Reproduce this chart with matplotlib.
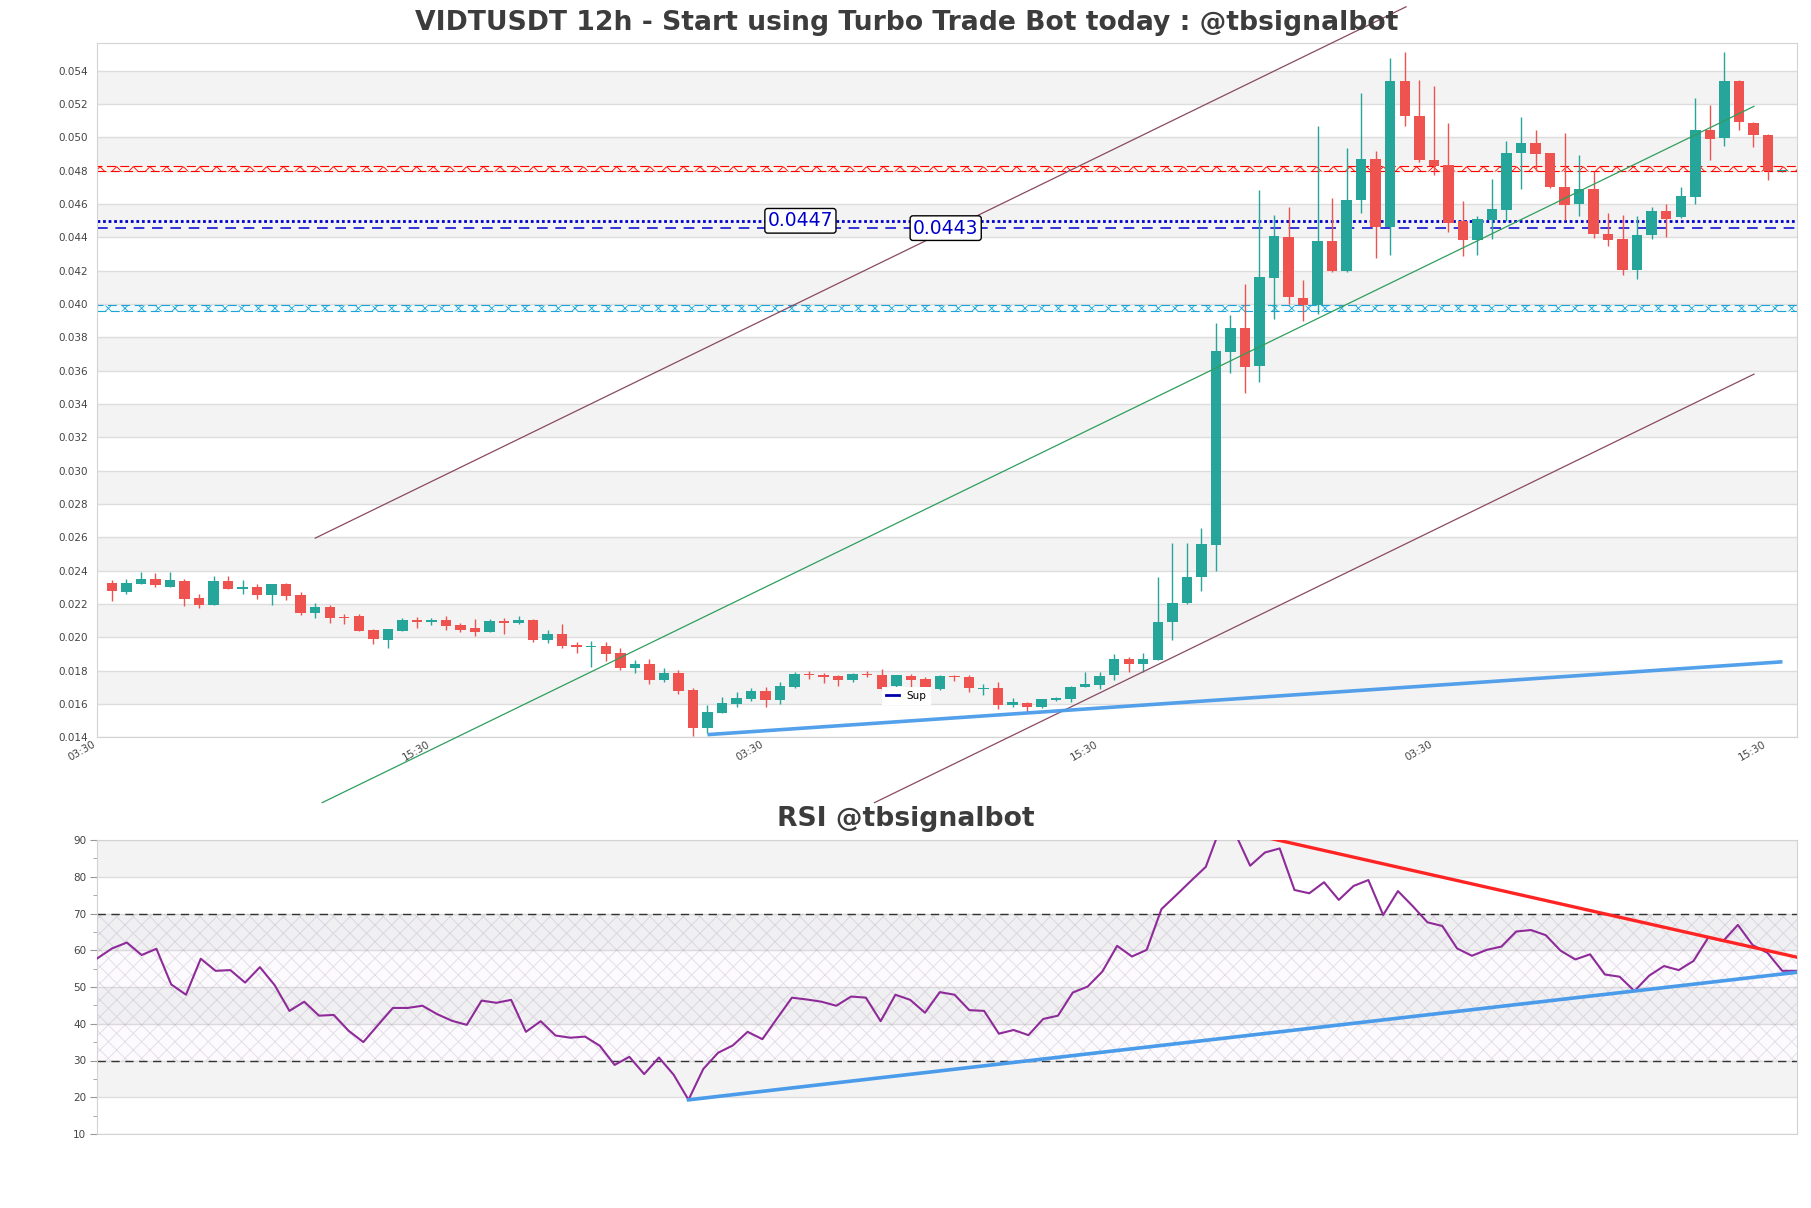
import matplotlib
matplotlib.use('Agg')
import matplotlib.pyplot as plt
import numpy as np
from matplotlib.lines import Line2D

# ---------------- data ----------------
opens = [0.02326, 0.02274, 0.02322, 0.0235, 0.0230, 0.02338, 0.02234, 0.02196, 0.02338, 0.0229,
         0.02302, 0.02256, 0.0232, 0.02254, 0.02148, 0.02182, 0.02122, 0.02128, 0.02044, 0.01986,
         0.0204, 0.02104, 0.02094, 0.02104, 0.02074, 0.02056, 0.02032, 0.02098, 0.02086, 0.02104,
         0.01986, 0.0202, 0.01954, 0.01944, 0.01948, 0.01908, 0.01818, 0.0184, 0.01746, 0.01788,
         0.01684, 0.01458, 0.01548, 0.01602, 0.01632, 0.01678, 0.01626, 0.01702, 0.0178, 0.01774,
         0.01768, 0.01746, 0.01782, 0.01774, 0.01708, 0.0177, 0.0175, 0.01692, 0.01768, 0.0176,
         0.01692, 0.01694, 0.01592, 0.01604, 0.01584, 0.01626, 0.01628, 0.01702, 0.01716, 0.01772,
         0.0187, 0.01838, 0.01862, 0.0209, 0.02203, 0.02359, 0.02552, 0.03714, 0.03857, 0.03629,
         0.04158, 0.04402, 0.04037, 0.03994, 0.0438, 0.04198, 0.04622, 0.04869, 0.04464, 0.05336,
         0.0513, 0.04866, 0.04836, 0.04496, 0.04382, 0.04506, 0.04562, 0.04906, 0.04966, 0.04906,
         0.047, 0.04598, 0.04692, 0.0442, 0.04392, 0.04202, 0.04412, 0.0456, 0.0452, 0.0464,
         0.05046, 0.04994, 0.0534, 0.05086, 0.05016, 0.04796]
highs = [0.02344, 0.02348, 0.02392, 0.02388, 0.02392, 0.0235, 0.0226, 0.02368, 0.02368, 0.02344,
         0.02322, 0.0232, 0.02324, 0.02274, 0.02204, 0.02194, 0.02138, 0.02138, 0.02048, 0.02048,
         0.02114, 0.02124, 0.02114, 0.02128, 0.02084, 0.0211, 0.0211, 0.02114, 0.02128, 0.02112,
         0.02044, 0.0208, 0.01972, 0.01978, 0.01972, 0.01936, 0.01864, 0.0187, 0.01818, 0.01804,
         0.01696, 0.01592, 0.0164, 0.0167, 0.01694, 0.017, 0.0173, 0.01794, 0.01798, 0.01788,
         0.01774, 0.01786, 0.01798, 0.0181, 0.01772, 0.0178, 0.0176, 0.01772, 0.01776, 0.01772,
         0.01718, 0.01732, 0.01634, 0.01612, 0.01632, 0.01644, 0.01708, 0.01792, 0.01792, 0.019,
         0.01881, 0.01905, 0.02359, 0.02568, 0.02568, 0.02654, 0.03886, 0.03935, 0.04117, 0.04686,
         0.04533, 0.04584, 0.04144, 0.0507, 0.04638, 0.04933, 0.05264, 0.04915, 0.05476, 0.0551,
         0.05346, 0.0531, 0.05086, 0.0462, 0.0453, 0.04752, 0.0498, 0.0512, 0.05046, 0.04906,
         0.05026, 0.04892, 0.04796, 0.04546, 0.04536, 0.0453, 0.04582, 0.04602, 0.04702, 0.05236,
         0.05196, 0.05512, 0.05346, 0.05092, 0.0502, 0.04800]
lows = [0.0222, 0.02258, 0.02318, 0.023, 0.0230, 0.0219, 0.02178, 0.02196, 0.02292, 0.02262,
        0.0223, 0.02196, 0.02226, 0.02136, 0.02118, 0.02088, 0.02078, 0.0204, 0.01962, 0.01938,
        0.0204, 0.02056, 0.02076, 0.02046, 0.02034, 0.02008, 0.02032, 0.0202, 0.02082, 0.01974,
        0.01968, 0.01938, 0.01908, 0.01824, 0.0186, 0.01802, 0.01788, 0.01718, 0.01734, 0.01658,
        0.0141, 0.01428, 0.01548, 0.01584, 0.0162, 0.01584, 0.01602, 0.01696, 0.01748, 0.01724,
        0.0171, 0.01734, 0.0176, 0.0168, 0.01704, 0.01704, 0.01704, 0.01684, 0.01736, 0.01674,
        0.01656, 0.01572, 0.01584, 0.01554, 0.01574, 0.01618, 0.01614, 0.01702, 0.01688, 0.01744,
        0.01789, 0.01789, 0.01862, 0.01983, 0.02197, 0.02278, 0.02399, 0.03586, 0.03467, 0.03532,
        0.0391, 0.03999, 0.039, 0.03937, 0.04192, 0.0419, 0.04547, 0.04278, 0.04292, 0.05066,
        0.04852, 0.04772, 0.04432, 0.0429, 0.04296, 0.0439, 0.04496, 0.0469, 0.04796, 0.04696,
        0.04506, 0.04526, 0.04396, 0.04346, 0.04176, 0.0415, 0.0439, 0.044, 0.04516, 0.046,
        0.04862, 0.04946, 0.05046, 0.0494, 0.04742, 0.04792]
closes = [0.0228, 0.02326, 0.0235, 0.02316, 0.02344, 0.02232, 0.02196, 0.02338, 0.02292, 0.023,
          0.02256, 0.0232, 0.02248, 0.02148, 0.02182, 0.02118, 0.02118, 0.0204, 0.01992, 0.02048,
          0.02104, 0.02094, 0.02104, 0.0207, 0.02046, 0.02032, 0.02098, 0.02086, 0.02104, 0.01986,
          0.0202, 0.0195, 0.01944, 0.0195, 0.01902, 0.01818, 0.0184, 0.01746, 0.01788, 0.0168,
          0.01458, 0.0155, 0.01604, 0.01636, 0.01678, 0.01626, 0.01706, 0.01782, 0.01772, 0.01764,
          0.01746, 0.0178, 0.01772, 0.0169, 0.01772, 0.01744, 0.01704, 0.01768, 0.0176, 0.01698,
          0.01698, 0.01596, 0.0161, 0.01584, 0.01628, 0.01636, 0.017, 0.0172, 0.0177, 0.01868,
          0.01838, 0.0187, 0.02093, 0.02208, 0.02364, 0.02557, 0.03717, 0.03857, 0.0362, 0.04163,
          0.0441, 0.04039, 0.03994, 0.0438, 0.04198, 0.04625, 0.04869, 0.04464, 0.05336, 0.0513,
          0.04866, 0.04826, 0.04486, 0.04382, 0.0451, 0.0457, 0.04906, 0.04966, 0.04902, 0.047,
          0.04592, 0.04692, 0.04418, 0.04386, 0.04202, 0.04414, 0.04558, 0.04512, 0.04648, 0.05046,
          0.04992, 0.0534, 0.0509, 0.05012, 0.04796, 0.04798]

rsi = [57.8, 60.5, 62.1, 58.7, 60.4, 50.7, 47.9, 57.7, 54.4, 54.6,
       51.2, 55.4, 50.5, 43.5, 46.0, 42.2, 42.4, 38.1, 35.0, 39.7,
       44.3, 44.3, 44.9, 42.6, 40.8, 39.7, 46.3, 45.7, 46.5, 37.8,
       40.7, 36.8, 36.2, 36.5, 34.0, 28.8, 31.0, 26.3, 30.8, 26.1,
       19.3, 27.7, 32.1, 34.1, 37.8, 35.8, 41.5, 47.1, 46.6, 46.0,
       44.9, 47.4, 47.1, 40.7, 47.9, 46.5, 43.0, 48.6, 47.9, 43.7,
       43.5, 37.3, 38.3, 36.9, 41.3, 42.2, 48.5, 50.1, 54.2, 61.2,
       58.3, 60.1, 71.2, 75.0, 78.9, 82.7, 93.5, 91.7, 83.0, 86.6,
       87.7, 76.4, 75.5, 78.5, 73.7, 77.5, 79.1, 69.6, 76.1, 72.0,
       67.6, 66.6, 60.5, 58.5, 60.1, 61.0, 65.1, 65.5, 64.1, 59.9,
       57.5, 58.9, 53.4, 52.8, 48.9, 53.1, 55.7, 54.6, 57.1, 63.5,
       62.5, 66.9, 61.4, 59.3, 54.4, 54.4]

tick_pos = [-1, 22, 45, 68, 91, 114]
tick_labels = ['03:30', '15:30', '03:30', '15:30', '03:30', '15:30']
price_ticks = [0.014, 0.016, 0.018, 0.020, 0.022, 0.024, 0.026, 0.028, 0.030, 0.032, 0.034,
               0.036, 0.038, 0.040, 0.042, 0.044, 0.046, 0.048, 0.050, 0.052, 0.054]
rsi_ticks = [10, 20, 30, 40, 50, 60, 70, 80, 90]

res_band = [0.04796, 0.04830]
sup_band = [0.03958, 0.03994]
dotted_level = 0.04499
dashed_level = 0.04455
level_labels = ['0.0447', '0.0443']
level_label_x = [47.4, 57.4]

chan_upper_x, chan_upper_y = [14.0, 89.09], [0.02595, 0.05783]
chan_mid_x, chan_mid_y = [14.48, 113.04], [0.01008, 0.05186]
chan_lower_x, chan_lower_y = [52.5, 113.04], [0.01008, 0.03579]
sup_x, sup_y = [41, 115], [0.01416, 0.01853]
rsi_sup_x, rsi_sup_y = [40, 115], [19.3, 54.0]
rsi_res_x, rsi_res_y = [76, 115], [93.5, 58.1]

title = 'VIDTUSDT 12h - Start using Turbo Trade Bot today : @tbsignalbot'
rsi_title = 'RSI @tbsignalbot'

# ---------------- figure ----------------
W, H = 1811, 1208
fig = plt.figure(figsize=(W / 100, H / 100), dpi=100)
plt.rcParams['hatch.linewidth'] = 0.6

GREEN = '#26a69a'
RED = '#ef5350'
SPINE = '#d3d3d3'
BAND = '#f3f3f3'
GRID = '#dddddd'
TXT = '#444444'

ax = fig.add_axes([97.3 / W, 1 - 737.3 / H, (1797 - 97.3) / W, (737.3 - 43.3) / H])
ax.set_xlim(-1, 116)
ax.set_ylim(0.014, 0.05564)
for i in range(len(price_ticks) - 1):
    if i % 2 == 1:
        ax.axhspan(price_ticks[i], price_ticks[i + 1], color=BAND, lw=0, zorder=0)
ax.set_yticks(price_ticks)
ax.set_yticklabels([f'{t:.3f}' for t in price_ticks])
ax.yaxis.grid(True, color=GRID, lw=1)
ax.set_axisbelow(True)
ax.tick_params(axis='y', length=0, pad=7, labelsize=7.5, labelcolor=TXT)
ax.set_xticks(tick_pos)
ax.set_xticklabels(tick_labels, rotation=30, ha='right')
ax.tick_params(axis='x', length=0, pad=1, labelsize=7.5, labelcolor=TXT)
for s in ax.spines.values():
    s.set_color(SPINE)

o = np.array(opens); h = np.array(highs); l = np.array(lows); c = np.array(closes)
x = np.arange(len(o))
cols = np.where(c >= o, GREEN, RED)
ax.vlines(x, l, h, colors=cols, lw=1.0, zorder=3)
body_h = np.maximum(np.abs(c - o), 0.00005)
ax.bar(x, body_h, bottom=np.minimum(o, c), width=0.72, color=cols, lw=0, zorder=3)

# horizontal levels
ax.axhspan(res_band[0], res_band[1], facecolor='#fff6ee', edgecolor='red', hatch='xx',
           lw=0.8, ls=(0, (8, 4)), zorder=2)
ax.axhspan(sup_band[0], sup_band[1], facecolor='#f0fbff', edgecolor='#1aa3d6', hatch='xx',
           lw=0.8, ls=(0, (8, 4)), zorder=2)
ax.axhline(dotted_level, color='#0000cc', ls=(0, (1, 1)), lw=2.0, zorder=2)
ax.axhline(dashed_level, color='#0000cc', ls=(0, (7, 5)), lw=1.1, zorder=2)
for txt, xx, yy in zip(level_labels, level_label_x, [dotted_level, dashed_level]):
    ax.text(xx, yy, txt, color='#0000cc', fontsize=13.5, ha='center', va='center', zorder=6,
            bbox=dict(boxstyle='round,pad=0.15', fc='white', ec='black', lw=1))

# channel lines (unclipped)
ax.plot(chan_upper_x, chan_upper_y, color='#8a4a62', lw=0.9, clip_on=False, zorder=4)
ax.plot(chan_mid_x, chan_mid_y, color='#2f9e5c', lw=0.9, clip_on=False, zorder=4)
ax.plot(chan_lower_x, chan_lower_y, color='#8a4a62', lw=0.9, clip_on=False, zorder=4)
ax.plot(sup_x, sup_y, color='#4a9bea', lw=2.6, alpha=0.95, zorder=4, solid_capstyle='butt')

leg = ax.legend([Line2D([0], [0], color='#0000aa', lw=2)], ['Sup'], loc='center',
                bbox_to_anchor=(0.476, 0.0595), fontsize=7.5, frameon=True,
                handlelength=1.2, framealpha=1.0, edgecolor='white', fancybox=False)
leg.get_frame().set_linewidth(0)

# ---------------- RSI ----------------
ax2 = fig.add_axes([97.3 / W, 1 - 1134 / H, (1797 - 97.3) / W, (1134 - 840) / H])
ax2.set_xlim(0, 115)
ax2.set_ylim(10, 90)
for i in range(len(rsi_ticks) - 1):
    if i % 2 == 1:
        ax2.axhspan(rsi_ticks[i], rsi_ticks[i + 1], color=BAND, lw=0, zorder=0)
ax2.set_yticks(rsi_ticks)
ax2.set_yticks([15, 25, 35, 45, 55, 65, 75, 85], minor=True)
ax2.yaxis.grid(True, color=GRID, lw=1)
ax2.set_axisbelow(True)
ax2.tick_params(axis='y', which='major', length=5, color='#999999', pad=3, labelsize=7.5, labelcolor=TXT)
ax2.tick_params(axis='y', which='minor', length=3, color='#999999')
ax2.set_xticks([])
for s in ax2.spines.values():
    s.set_color(SPINE)
xr = np.arange(len(rsi))
ax2.fill_between([0, 115], 30, 70, facecolor=(0.6, 0.3, 0.7, 0.025),
                 edgecolor=(0.6, 0.55, 0.66, 0.28), hatch='xx', lw=0, zorder=1)
ax2.axhline(70, color='#333333', ls=(0, (6, 4)), lw=1, zorder=2)
ax2.axhline(30, color='#333333', ls=(0, (6, 4)), lw=1, zorder=2)
ax2.plot(xr, rsi, color='#8e2b99', lw=1.5, zorder=3)
ax2.plot(rsi_sup_x, rsi_sup_y, color='#4a9bea', lw=2.6, zorder=4)
ax2.plot(rsi_res_x, rsi_res_y, color='#ff2424', lw=2.4, zorder=4)

fig.text(906.5 / W, 1 - 22.5 / H, title, ha='center', va='center', fontsize=19.2,
         fontweight='bold', color='#3c3c3c')
fig.text(905.5 / W, 1 - 819 / H, rsi_title, ha='center', va='center', fontsize=19.2,
         fontweight='bold', color='#3c3c3c')

fig.savefig('out.png', dpi=100)
